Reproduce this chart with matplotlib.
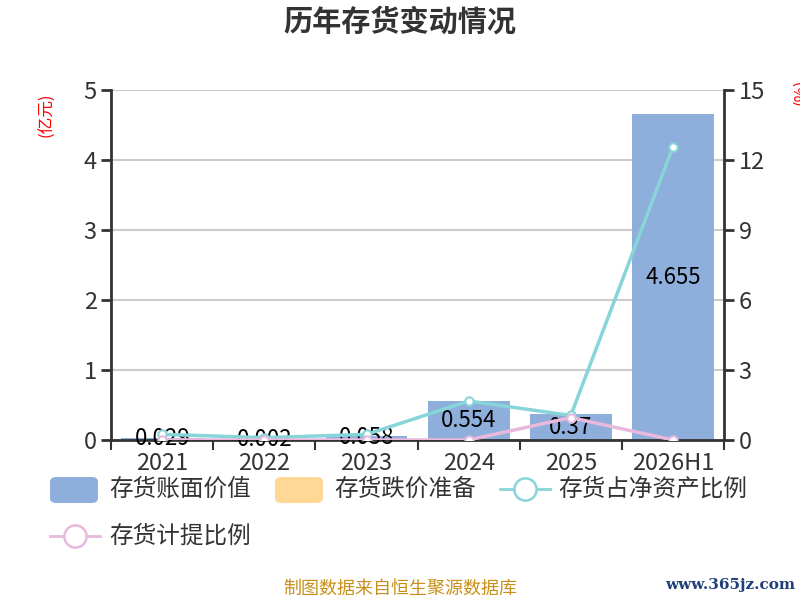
import matplotlib
matplotlib.use("Agg")
import matplotlib.pyplot as plt
from matplotlib.patches import FancyBboxPatch
from matplotlib.lines import Line2D

plt.rcParams['font.family'] = ['Noto Sans CJK SC', 'DejaVu Sans']

# data
years = ['2021', '2022', '2023', '2024', '2025', '2026H1']
book_value = [0.029, 0.002, 0.058, 0.554, 0.37, 4.655]      # 亿元
net_asset_ratio = [0.24, 0.1, 0.24, 1.67, 1.05, 12.56]      # %
provision_ratio = [0, 0, 0, 0, 0.96, 0]                      # %
legend_names = ['存货账面价值', '存货跌价准备', '存货占净资产比例', '存货计提比例']

blue = '#8eaedb'
orange = '#ffd896'
cyan = '#87d5d8'
pink = '#e8b9dd'
txt = '#333333'

fig = plt.figure(figsize=(8, 6), dpi=100)
ax = fig.add_axes([0.139, 0.2667, 0.766, 0.5833])
x = list(range(len(years)))

ax.bar(x, book_value, width=0.8, color=blue, zorder=2)
for xi, v in zip(x, book_value):
    ax.text(xi, v / 2, str(v), ha='center', va='center', fontsize=16, color='black', zorder=5)

ax.set_xlim(-0.5, len(years) - 0.5)
ax.set_ylim(0, 5)
ax.set_yticks([0, 1, 2, 3, 4, 5])
ax.grid(axis='y', color='#cccccc', linewidth=1.5, zorder=0)
ax.set_xticks(x)
ax.set_xticklabels(years)
ax.set_xticks([i - 0.5 for i in range(len(years) + 1)], minor=True)
ax.tick_params(axis='x', which='major', length=0, labelsize=17, labelcolor=txt, pad=9)
ax.tick_params(axis='x', which='minor', length=7, width=1.5, color=txt)
ax.tick_params(axis='y', length=7, width=2, color=txt, labelsize=17, labelcolor=txt)
for s in ['top', 'right']:
    ax.spines[s].set_visible(False)
ax.spines['left'].set_linewidth(2)
ax.spines['left'].set_color(txt)
ax.spines['bottom'].set_linewidth(2)
ax.spines['bottom'].set_color(txt)

ax2 = ax.twinx()
ax2.set_ylim(0, 15)
ax2.set_yticks([0, 3, 6, 9, 12, 15])
ax2.plot(x, net_asset_ratio, color=cyan, linewidth=2.5, marker='o', markersize=6,
         markerfacecolor='white', markeredgecolor=cyan, markeredgewidth=1.5, zorder=3)
ax2.plot(x, provision_ratio, color=pink, linewidth=2.5, marker='o', markersize=6,
         markerfacecolor='white', markeredgecolor=pink, markeredgewidth=1.5, zorder=3)
ax2.tick_params(axis='y', length=7, width=2, color=txt, labelsize=17, labelcolor=txt)
for s in ['top', 'left', 'bottom']:
    ax2.spines[s].set_visible(False)
ax2.spines['right'].set_linewidth(2)
ax2.spines['right'].set_color(txt)

fig.text(0.5, 1 - 22 / 600, '历年存货变动情况', ha='center', va='center',
         fontsize=21, fontweight='bold', color=txt)
fig.text(47 / 800, 1 - 115 / 600, '(亿元)', rotation=90, ha='center', va='center',
         fontsize=12, color='red')
fig.text(801 / 800, 1 - 92 / 600, '(%)', rotation=90, ha='center', va='center',
         fontsize=12, color='red')

# legend drawn by hand
def px(xp, yp):
    return xp / 800, 1 - yp / 600

for i, (col, xs) in enumerate([(blue, 50), (orange, 275)]):
    x0, y0 = px(xs, 503)
    fig.patches.append(FancyBboxPatch((x0, y0), 48 / 800, 26 / 600,
                                      boxstyle='round,pad=0,rounding_size=0.008',
                                      transform=fig.transFigure, facecolor=col, edgecolor='none'))
    fig.text(*px(xs + 59, 489), legend_names[i], ha='left', va='center', fontsize=17, color=txt)

for i, (col, xs, yp) in enumerate([(cyan, 500, 489), (pink, 50, 536)]):
    fig.lines.append(Line2D([xs / 800, (xs + 50) / 800], [1 - yp / 600] * 2,
                            transform=fig.transFigure, color=col, linewidth=2))
    fig.lines.append(Line2D([(xs + 25) / 800], [1 - yp / 600], transform=fig.transFigure,
                            marker='o', markersize=16, markerfacecolor='white',
                            markeredgecolor=col, markeredgewidth=1.8))
    fig.text(*px(xs + 58 if i == 0 else xs + 59, yp), legend_names[i + 2], ha='left',
             va='center', fontsize=17, color=txt)

fig.text(0.5, 1 - 589 / 600, '制图数据来自恒生聚源数据库', ha='center', va='center',
         fontsize=13, color='#c8901a')
fig.text(795 / 800, 1 - 585 / 600, 'www.365jz.com', ha='right', va='center',
         fontsize=11, color='#1f3f7a', family='DejaVu Serif', fontweight='bold')

fig.savefig('out.png', dpi=100)
